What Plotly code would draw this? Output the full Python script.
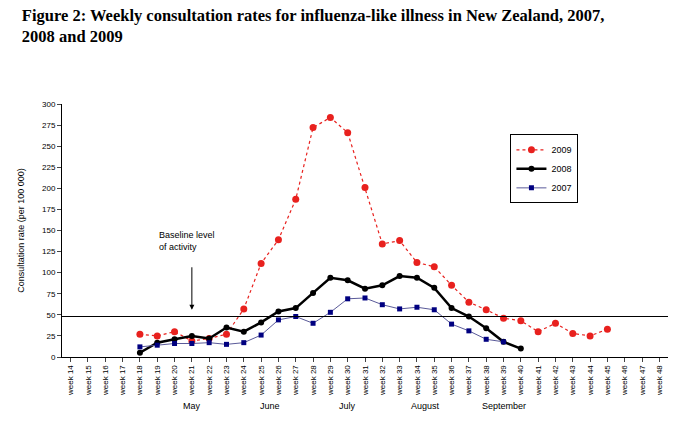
import plotly.graph_objects as go

weeks = ["week %d" % w for w in range(14, 49)]
weeks_2009 = ["week %d" % w for w in range(18, 46)]
rates_2009 = [27, 25, 30, 19, 22, 27, 57, 111, 139, 187, 272, 284, 266, 201,
              134, 138, 112, 107, 85, 65, 56, 46, 43, 30, 40, 28, 25, 33]
weeks_2008 = ["week %d" % w for w in range(18, 41)]
rates_2008 = [5, 17, 21, 25, 22, 35, 30, 41, 54, 58, 76, 94, 91, 81, 85, 96,
              94, 82, 58, 48, 34, 18, 10]
weeks_2007 = ["week %d" % w for w in range(18, 40)]
rates_2007 = [12, 14, 16, 16, 17, 15, 17, 26, 44, 48, 40, 53, 69, 70, 62, 57,
              59, 56, 39, 31, 21, 18]
baseline = 48
months = ["May", "June", "July", "August", "September"]
month_pos = [21, 25.5, 30, 34.5, 39]

fig = go.Figure()
fig.add_trace(go.Scatter(name="2009", x=weeks_2009, y=rates_2009, mode="lines+markers",
                         line=dict(color="#e8211e", width=1.2, dash="dot"),
                         marker=dict(size=7, color="#e8211e")))
fig.add_trace(go.Scatter(name="2008", x=weeks_2008, y=rates_2008, mode="lines+markers",
                         line=dict(color="black", width=2.5),
                         marker=dict(size=6, color="black")))
fig.add_trace(go.Scatter(name="2007", x=weeks_2007, y=rates_2007, mode="lines+markers",
                         line=dict(color="#5a5a99", width=1),
                         marker=dict(size=5, symbol="square", color="#000080")))

fig.add_shape(type="line", xref="paper", x0=0, x1=1, y0=baseline, y1=baseline,
              line=dict(color="black", width=1.2))

for m, p in zip(months, month_pos):
    fig.add_annotation(x=p - 14, y=-0.22, yref="paper", text=m, showarrow=False,
                       font=dict(size=9, color="black"))

fig.add_annotation(x="week 21", y=56, ax=0, ay=-44, text="", showarrow=True,
                   arrowhead=2, arrowsize=1, arrowwidth=1, arrowcolor="black")
fig.add_annotation(x="week 19", y=153, text="Baseline level<br>of activity",
                   showarrow=False, xanchor="left", yanchor="top", align="left",
                   font=dict(size=9, color="black"))

fig.update_layout(
    width=692, height=429, paper_bgcolor="white", plot_bgcolor="white",
    margin=dict(l=54, r=32, t=96, b=80),
    font=dict(family="Liberation Sans, Arial", size=9, color="black"),
    title=dict(text="<b>Figure 2: Weekly consultation rates for influenza-like illness in New Zealand, 2007,<br>2008 and 2009</b>",
               x=0.02, xanchor="left", y=0.97, yanchor="top",
               font=dict(family="Liberation Serif, Times New Roman", size=16.5)),
    legend=dict(x=0.74, y=0.88, bordercolor="black", borderwidth=1,
                bgcolor="white", font=dict(size=9)),
    showlegend=True,
)
fig.update_xaxes(categoryorder="array", categoryarray=weeks, tickangle=-90,
                 range=[-0.5, 34.5], showline=True, linecolor="black",
                 ticks="outside", ticklen=4, tickfont=dict(size=8), showgrid=False)
fig.update_yaxes(range=[0, 300], dtick=25, showline=True, linecolor="black",
                 ticks="outside", ticklen=4, showgrid=False, tickfont=dict(size=8),
                 title=dict(text="Consultation rate (per 100 000)", font=dict(size=9)))

fig.write_html("out.html")
